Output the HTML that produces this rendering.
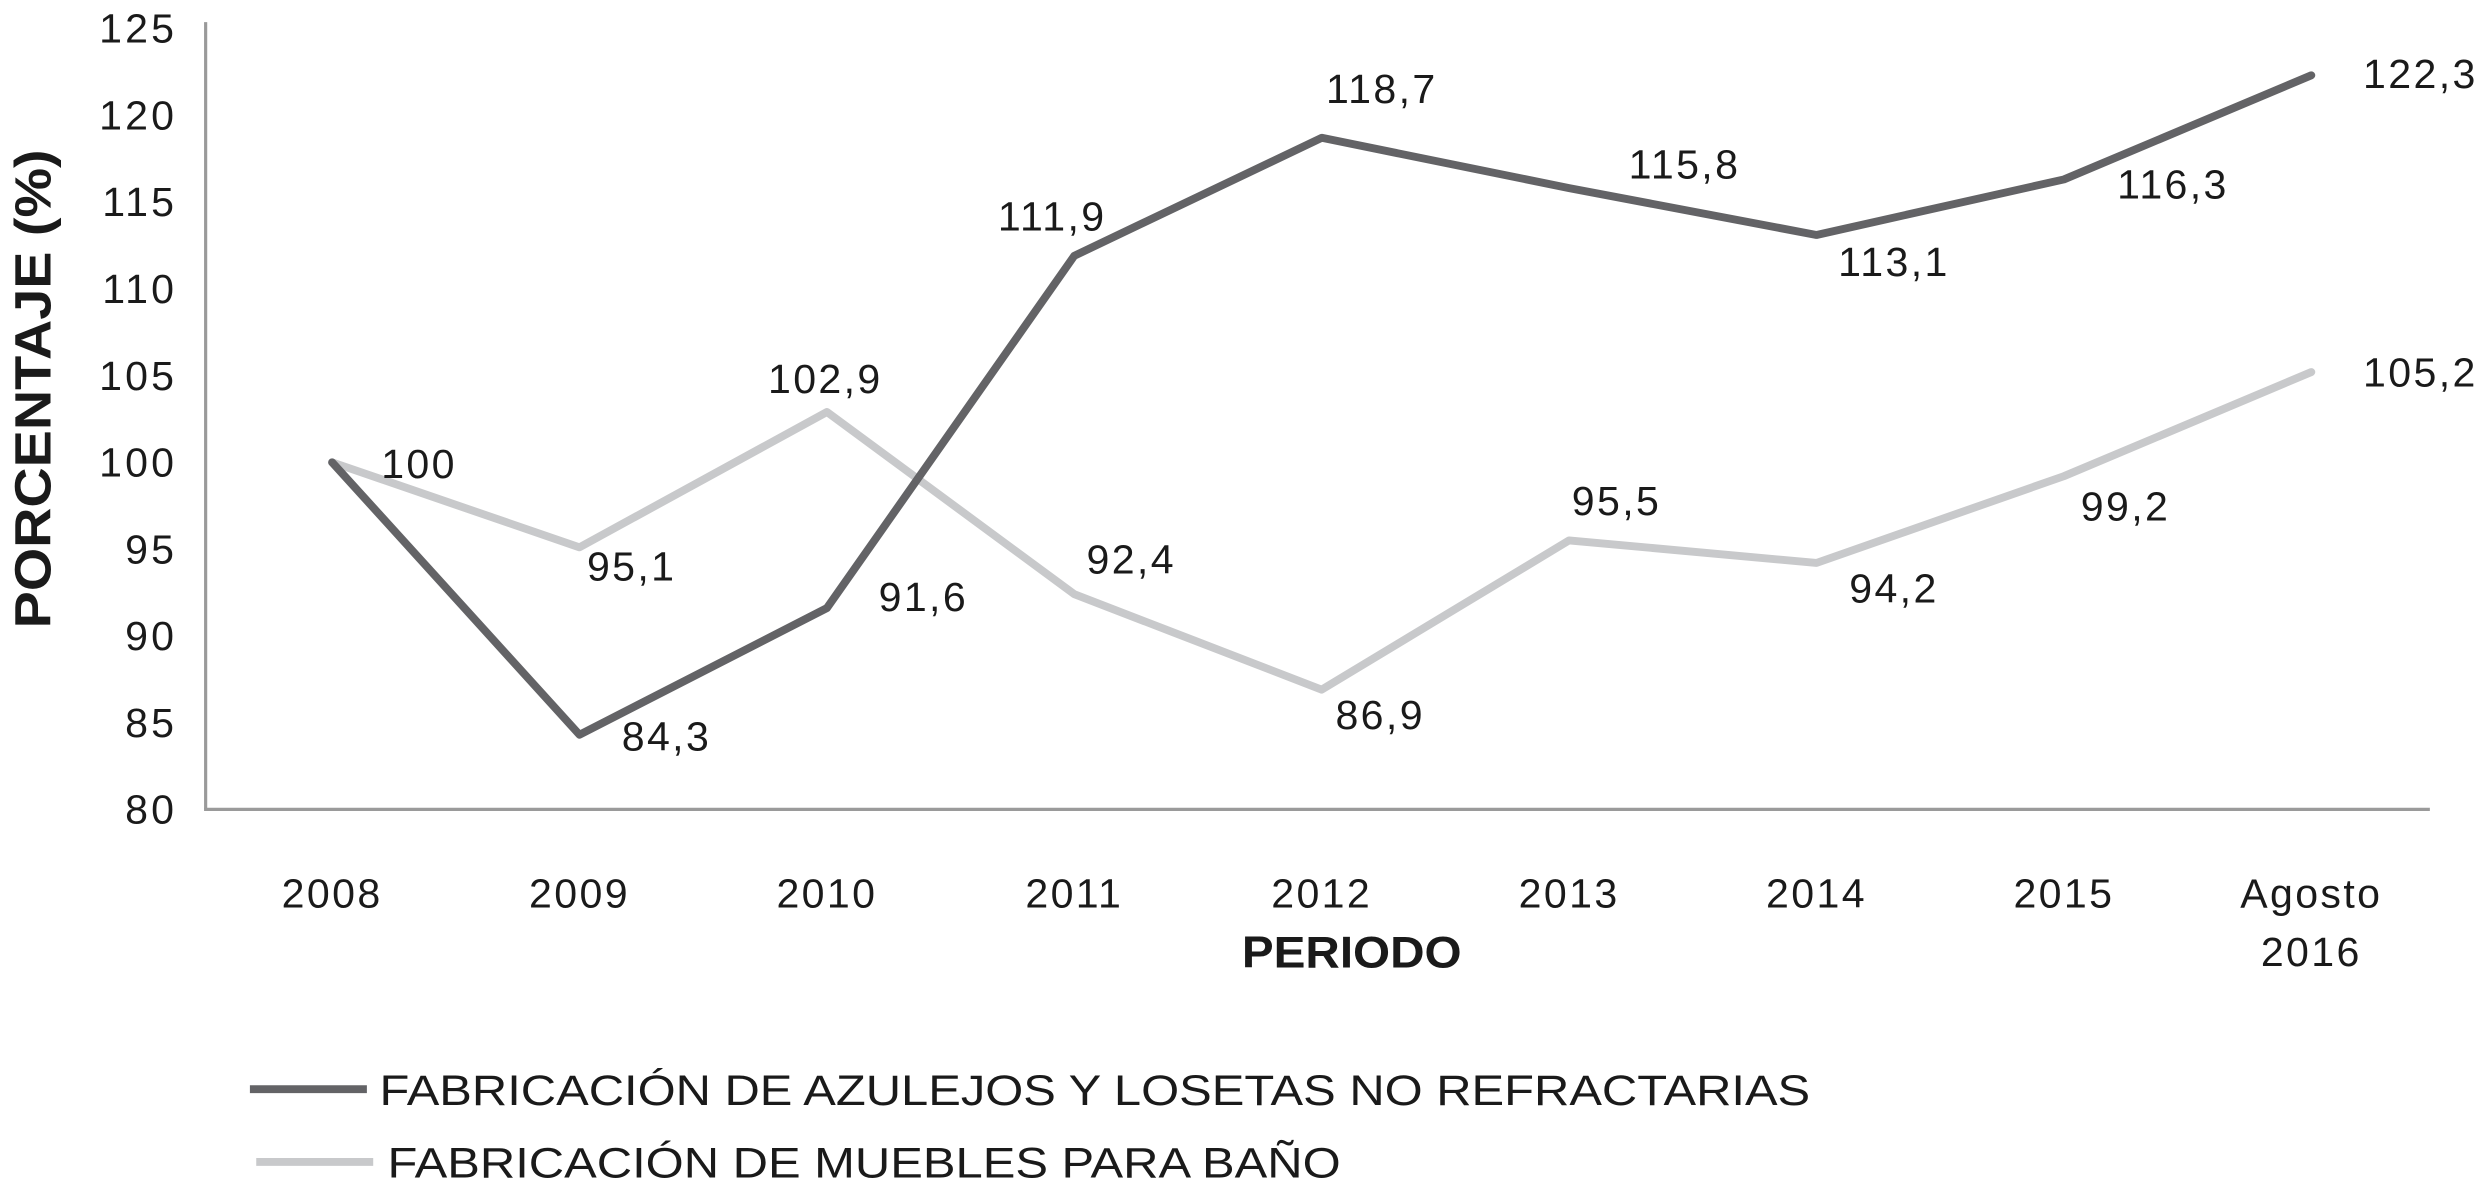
<!DOCTYPE html>
<html><head><meta charset="utf-8"><style>
html,body{margin:0;padding:0;background:#fff;}
svg{display:block;font-family:"Liberation Sans",Arial,sans-serif;}
</style></head><body>
<svg id="chart" width="2479" height="1203" viewBox="0 0 1568 761">
<g id="axes"></g><g id="series"></g><g id="labels"></g>
<text transform="translate(32,246) rotate(-90)" text-anchor="middle" font-weight="bold" font-size="32" textLength="303" lengthAdjust="spacingAndGlyphs" fill="#1a1a1a">PORCENTAJE (%)</text>
<text x="855" y="612" text-anchor="middle" font-weight="bold" font-size="28" textLength="139" lengthAdjust="spacingAndGlyphs" fill="#1a1a1a">PERIODO</text>
<g>
<line x1="158" y1="689" x2="232" y2="689" stroke="#636366" stroke-width="5"/>
<text x="240" y="699" font-size="27" textLength="905" lengthAdjust="spacingAndGlyphs" fill="#1a1a1a">FABRICACIÓN DE AZULEJOS Y LOSETAS NO REFRACTARIAS</text>
<line x1="162" y1="735" x2="236" y2="735" stroke="#c8c9cb" stroke-width="5"/>
<text x="245" y="745" font-size="27" textLength="603" lengthAdjust="spacingAndGlyphs" fill="#1a1a1a">FABRICACIÓN DE MUEBLES PARA BAÑO</text>
</g>
</svg>
<script>
const categories = ["2008","2009","2010","2011","2012","2013","2014","2015","Agosto\n2016"];
const azulejos = [100, 84.3, 91.6, 111.9, 118.7, 115.8, 113.1, 116.3, 122.3];
const muebles = [100, 95.1, 102.9, 92.4, 86.9, 95.5, 94.2, 99.2, 105.2];
const azulejosText = ["", "84,3", "91,6", "111,9", "118,7", "115,8", "113,1", "116,3", "122,3"];
const mueblesText = ["100", "95,1", "102,9", "92,4", "86,9", "95,5", "94,2", "99,2", "105,2"];
const yTicks = [80, 85, 90, 95, 100, 105, 110, 115, 120, 125];
// label offsets (presentation only)
const azOff = [[0,0],[55,1],[61,-7],[-14,-25],[38,-31],[73,-15],[49,17],[69,3],[69,-1]];
const muOff = [[55,1],[33,12],[-1,-21],[36,-22],[37,16],[30,-25],[49,16],[39,19],[69,0]];

const NS = "http://www.w3.org/2000/svg";
const X0 = 210, DX = 156.5, YB = 512, YT = 18, VMIN = 80, VMAX = 125;
function xScale(i){ return X0 + DX * i; }
function yScale(v){ return YB - (v - VMIN) * (YB - YT) / (VMAX - VMIN); }
function mk(tag, attrs, parent){ const e = document.createElementNS(NS, tag); for (const k in attrs) e.setAttribute(k, attrs[k]); parent.appendChild(e); return e; }

const axes = document.getElementById("axes");
const yAxis = mk("line", {x1:130, y1:YT-4, x2:130, y2:YB, stroke:"#9a9a9a", "stroke-width":2}, axes);


const xAxis = mk("line", {x1:129, y1:YB, x2:1537, y2:YB, stroke:"#9a9a9a", "stroke-width":2}, axes);



yTicks.forEach(v => {
  const t = mk("text", {x:112, y:yScale(v)+9, "text-anchor":"end", "font-size":26, "letter-spacing":2, fill:"#1a1a1a"}, axes);
  t.textContent = v;
  
  
});
categories.forEach((c, i) => {
  const t = mk("text", {x:xScale(i), y:574, "text-anchor":"middle", "font-size":26, "letter-spacing":1.5, fill:"#1a1a1a"}, axes);
  
  
  c.split("\n").forEach((line, j) => {
    const ts = mk("tspan", {x:xScale(i), dy: j ? 37 : 0}, t);
    ts.textContent = line;
  });
});

const series = document.getElementById("series");
function drawLine(vals, color, name){
  const d = vals.map((v, i) => (i ? "L" : "M") + xScale(i) + "," + yScale(v)).join(" ");
  const p = mk("path", {d:d, fill:"none", stroke:color, "stroke-width":5, "stroke-linejoin":"round", "stroke-linecap":"round"}, series);
  
  
}
drawLine(muebles, "#c8c9cb", "line-muebles-bano");
drawLine(azulejos, "#636366", "line-azulejos-losetas");

const labels = document.getElementById("labels");
function drawLabels(vals, texts, offs, name){
  vals.forEach((v, i) => {
    if (!texts[i]) return;
    const t = mk("text", {x:xScale(i)+offs[i][0], y:yScale(v)+offs[i][1]+9, "text-anchor":"middle", "font-size":26, "letter-spacing":1.5, fill:"#1a1a1a"}, labels);
    t.textContent = texts[i];
    
    
  });
}
drawLabels(azulejos, azulejosText, azOff, "value-label-azulejos");
drawLabels(muebles, mueblesText, muOff, "value-label-muebles");
</script>
</body></html>
